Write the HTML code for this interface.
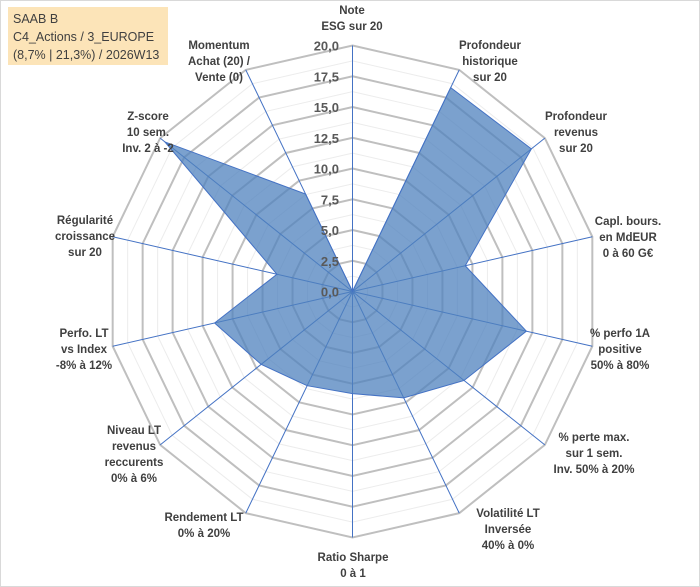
<!DOCTYPE html>
<html><head><meta charset="utf-8"><style>
body{margin:0;background:#fff}
svg{display:block;font-family:"Liberation Sans",Arial,sans-serif}
</style></head><body>
<svg id="chart" width="700" height="587" viewBox="0 0 700 587">
<rect x="0.5" y="0.5" width="699" height="586" fill="#fff" stroke="#d9d9d9"/>
<g id="grid"></g>
<g id="axes"></g>
<g id="series"></g>
<g id="ticks"></g>
<g id="labels"></g>
<g>
<rect x="8" y="7" width="160" height="58" fill="#fce4b8"/>
<text x="13" y="23" font-size="12.5" fill="#404040">SAAB B</text>
<text x="13" y="41" font-size="12.5" fill="#404040">C4_Actions / 3_EUROPE</text>
<text x="13" y="59" font-size="12.5" fill="#404040">(8,7% | 21,3%) / 2026W13</text>
</g>
</svg>
<script>
const categories=[["Note","ESG sur 20"],["Profondeur","historique","sur 20"],["Profondeur","revenus","sur 20"],["Capl. bours.","en MdEUR","0 à 60 G€"],["% perfo 1A","positive","50% à 80%"],["% perte max.","sur 1 sem.","Inv. 50% à 20%"],["Volatilité LT","Inversée","40% à 0%"],["Ratio Sharpe","0 à 1"],["Rendement LT","0% à 20%"],["Niveau LT","revenus","reccurents","0% à 6%"],["Perfo. LT","vs Index","-8% à 12%"],["Régularité","croissance","sur 20"],["Z-score","10 sem.","Inv. 2 à -2"],["Momentum","Achat (20) /","Vente (0)"]];
const values=[0,18.4,18.6,9.4,14.5,11.6,9.6,8.3,8.5,9.5,11.5,6.3,19.5,8.8];
const tickLabels=["0,0","2,5","5,0","7,5","10,0","12,5","15,0","17,5","20,0"];
const labelAnchors=[[352,10],[490,45],[576,116],[628,221],[620,333],[594,437],[508,513],[353,557],[204,517],[134,430],[84,333],[85,220],[148,116],[219,45]];
const CX=352.5,CY=291.5,R=246,MAX=20,N=categories.length;
const NS="http://www.w3.org/2000/svg";
function ang(i){return i*2*Math.PI/N;}
function pt(i,v){const r=v/MAX*R;return [CX+r*Math.sin(ang(i)),CY-r*Math.cos(ang(i))];}
function mk(tag,attrs,parent){const e=document.createElementNS(NS,tag);for(const k in attrs)e.setAttribute(k,attrs[k]);parent.appendChild(e);return e;}
const grid=document.getElementById('grid');
for(let s=1;s<=16;s++){const v=s*1.25;const p=[];for(let i=0;i<N;i++)p.push(pt(i,v).join(','));
const major=s%2===0;
const g=mk('polygon',{points:p.join(' '),fill:'none',stroke:major?'#bfbfbf':'#ececec','stroke-width':major?2:1},grid);

}
const axes=document.getElementById('axes');
const series=document.getElementById('series');
const poly=[];for(let i=0;i<N;i++)poly.push(pt(i,values[i]).join(','));
const sp=mk('polygon',{points:poly.join(' '),fill:'#4f81bd','fill-opacity':0.75,stroke:'#4472c4','stroke-width':1},series);


for(let i=0;i<N;i++){const [x,y]=pt(i,MAX);
const l=mk('line',{x1:CX,y1:CY,x2:x,y2:y,stroke:'#4472c4','stroke-width':1},axes);

}
mk('circle',{cx:CX,cy:CY,r:2.5,fill:'#4472c4'},axes);
const ticks=document.getElementById('ticks');
tickLabels.forEach((t,k)=>{const y=CY-(k*2.5)/MAX*R;
const e=mk('text',{x:339,y:y+5,'text-anchor':'end','font-size':13,'font-weight':'bold',fill:'#595959'},ticks);
e.textContent=t;

});
const labels=document.getElementById('labels');
categories.forEach((c,i)=>{const [x,y]=labelAnchors[i];
const t=mk('text',{x:x,y:y+4,'text-anchor':'middle','font-size':11.5,'font-weight':'bold',fill:'#404040'},labels);


c.forEach((line,j)=>{const ts=mk('tspan',{x:x,dy:j===0?0:16},t);ts.textContent=line;});});
</script>
</body></html>
